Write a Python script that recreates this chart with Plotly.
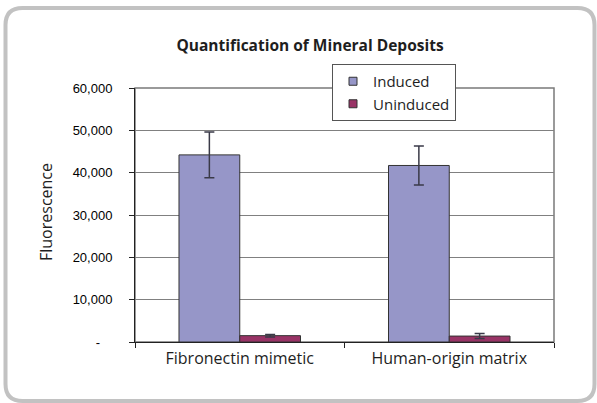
import plotly.graph_objects as go

categories = ["Fibronectin mimetic", "Human-origin matrix"]
series_names = ["Induced", "Uninduced"]
induced = [44200, 41700]
induced_err = [5400, 4600]
uninduced = [1500, 1400]
uninduced_err = [300, 600]
tick_vals = [0, 10000, 20000, 30000, 40000, 50000, 60000]
tick_text = ["-\u2007\u2009\u2009", "10,000", "20,000", "30,000", "40,000", "50,000", "60,000"]

colors = ["#9696C8", "#993366"]
TXT = "#1e1e1e"
FONT = "Open Sans"

fig = go.Figure()
for name, vals, errs, col in zip(series_names, [induced, uninduced], [induced_err, uninduced_err], colors):
    fig.add_trace(go.Bar(
        name=name, x=categories, y=vals, showlegend=False,
        marker=dict(color=col, line=dict(color="#333333", width=1)),
        error_y=dict(type="data", array=errs, color="#3a3a48", thickness=1.5, width=5),
    ))
# legend entries with small square keys
for name, col in zip(series_names, colors):
    fig.add_trace(go.Scatter(
        name=name, x=[None], y=[None], mode="markers",
        marker=dict(symbol="square", size=8, color=col, line=dict(color="#333333", width=1)),
    ))

W, H = 597, 403
L, R, T, B = 135, 43, 88, 61
pw, ph = W - L - R, H - T - B

def px(x):
    return (x - L) / pw

def py(y):
    return (H - B - y) / ph

# rounded outer frame
x0, x1, y0, y1 = 5.5, 594.5, 8, 401
r = 17
rx, ry = r / pw, r / ph
path = (
    f"M {px(x0)+rx},{py(y0)} L {px(x1)-rx},{py(y0)} Q {px(x1)},{py(y0)} {px(x1)},{py(y0)-ry} "
    f"L {px(x1)},{py(y1)+ry} Q {px(x1)},{py(y1)} {px(x1)-rx},{py(y1)} "
    f"L {px(x0)+rx},{py(y1)} Q {px(x0)},{py(y1)} {px(x0)},{py(y1)+ry} "
    f"L {px(x0)},{py(y0)-ry} Q {px(x0)},{py(y0)} {px(x0)+rx},{py(y0)} Z"
)

fig.update_layout(
    width=W, height=H,
    margin=dict(l=L, r=R, t=T, b=B),
    paper_bgcolor="white", plot_bgcolor="white",
    barmode="group", bargap=0.42, bargroupgap=0,
    showlegend=True,
    legend=dict(
        x=px(332), y=py(64), xanchor="left", yanchor="top",
        bgcolor="white", bordercolor="#555555", borderwidth=1,
        font=dict(family=FONT, size=15, color=TXT),
        tracegroupgap=0, itemwidth=30,
    ),
    title=dict(
        text="<b>Quantification of Mineral Deposits</b>",
        x=310 / W, y=1 - 46 / H, xref="container", yref="container",
        xanchor="center", yanchor="middle",
        font=dict(family=FONT, size=15.5, color=TXT),
    ),
    xaxis=dict(
        showline=True, linecolor="#222222", linewidth=1,
        ticks="outside", tickson="boundaries", ticklen=5, tickcolor="#222222",
        tickfont=dict(family=FONT, size=16, color=TXT),
        ticklabelstandoff=2,
        showgrid=False,
    ),
    yaxis=dict(
        range=[0, 60000], tickvals=tick_vals, ticktext=tick_text,
        showline=True, linecolor="#222222", linewidth=1,
        ticks="outside", ticklen=5, tickcolor="#222222",
        ticklabelstandoff=14,
        tickfont=dict(family="Arial", size=13, color="#000000"),
        showgrid=True, gridcolor="#808080", gridwidth=1,
        zeroline=False,
    ),
    shapes=[
        dict(type="path", path=path, xref="paper", yref="paper",
             line=dict(color="#c2c2c2", width=4), fillcolor="rgba(0,0,0,0)", layer="below"),
        dict(type="rect", x0=0, x1=1, y0=0, y1=1, xref="paper", yref="paper",
             line=dict(color="#7a7a7a", width=1.5), layer="below"),
    ],
    annotations=[
        dict(text="Fluorescence", x=px(46), y=py(212), xref="paper", yref="paper",
             textangle=-90, showarrow=False, xanchor="center", yanchor="middle",
             font=dict(family=FONT, size=16, color=TXT)),
    ],
)

fig.write_html("out.html", config={"displayModeBar": False},
               post_script="document.body.style.margin='0px';")
